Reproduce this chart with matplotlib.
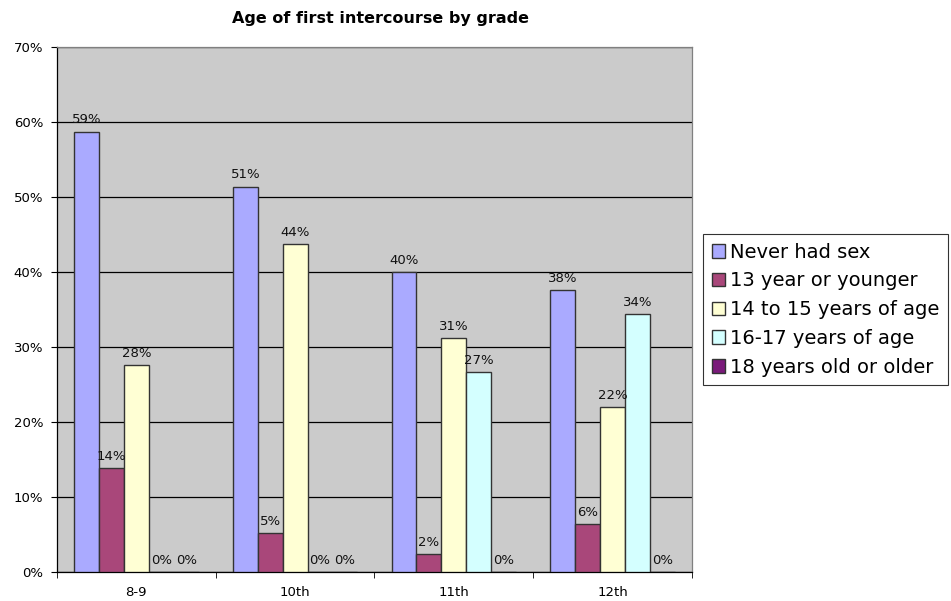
import matplotlib
matplotlib.use('Agg')
import matplotlib.pyplot as plt
import numpy as np

# --- Data ---
grades = ['8-9', '10th', '11th', '12th']
series_names = ['Never had sex', '13 year or younger', '14 to 15 years of age',
                '16-17 years of age', '18 years old or older']
never_had_sex = [58.7, 51.4, 40.0, 37.6]
age_13_or_younger = [13.9, 5.2, 2.4, 6.4]
age_14_15 = [27.6, 43.7, 31.2, 22.0]
age_16_17 = [0.0, 0.0, 26.7, 34.4]
age_18_plus = [0.0, 0.0, 0.0, 0.0]
colors = ['#AAAAFF', '#A9477A', '#FFFFD4', '#D4FFFF', '#7A1A7A']

all_series = [never_had_sex, age_13_or_younger, age_14_15, age_16_17, age_18_plus]

plt.rcParams['font.family'] = ['DejaVu Sans']

fig = plt.figure(figsize=(9.51, 6.01), dpi=100)
ax = fig.add_axes([57 / 951, 29 / 601, 635 / 951, 525 / 601])
ax.set_facecolor('#CBCBCB')

x = np.arange(len(grades))
width = 0.157
for i, (name, vals) in enumerate(zip(series_names, all_series)):
    pos = x + (i - 2) * width
    ax.bar(pos, vals, width, color=colors[i], edgecolor='#333333',
           linewidth=1.0, label=name, zorder=3)
    for j, v in enumerate(vals):
        ax.text(pos[j], v + 0.7, f'{v:.0f}%', ha='center', va='bottom',
                fontsize=9.5, color='#111111', zorder=4)

ax.set_xlim(-0.5, len(grades) - 0.5)
ax.set_ylim(0, 70)
ax.set_yticks(np.arange(0, 71, 10))
ax.set_yticklabels([f'{t}%' for t in range(0, 71, 10)], fontsize=9.5)
ax.yaxis.grid(True, color='black', linewidth=0.9, zorder=1)
ax.set_axisbelow(True)

ax.set_xticks(x)
ax.set_xticklabels(grades, fontsize=9.5)
ax.set_xticks(np.arange(-0.5, len(grades)), minor=True)
ax.tick_params(axis='x', which='major', length=0, pad=10)
ax.tick_params(axis='x', which='minor', length=4, direction='out', color='black')
ax.tick_params(axis='y', length=4, direction='out', color='black', pad=6)

for side in ['left', 'bottom']:
    ax.spines[side].set_color('black')
    ax.spines[side].set_linewidth(0.9)
for side in ['top', 'right']:
    ax.spines[side].set_color('#808080')
    ax.spines[side].set_linewidth(0.9)

fig.text(380 / 951, 1 - 18 / 601, 'Age of first intercourse by grade',
         ha='center', va='center', fontsize=11.5, fontweight='bold')

leg = fig.legend(loc='upper left', bbox_to_anchor=(703 / 951, 1 - 234 / 601),
                 fontsize=14, frameon=True, fancybox=False, edgecolor='black',
                 borderaxespad=0, handlelength=0.7, handleheight=0.7,
                 handletextpad=0.25, labelspacing=0.5, borderpad=0.45)
leg.get_frame().set_linewidth(0.8)

fig.savefig('out.png', dpi=100)
